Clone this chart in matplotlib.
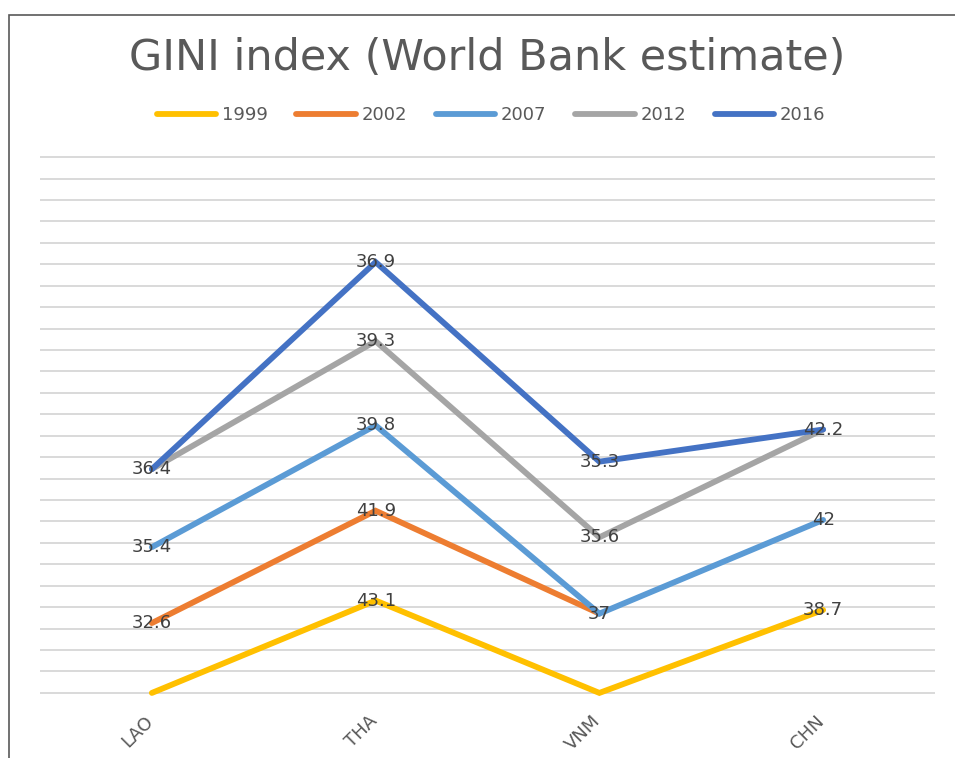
import matplotlib
matplotlib.use("Agg")
import matplotlib.pyplot as plt
import numpy as np
from matplotlib.lines import Line2D
from matplotlib.patches import Rectangle
from matplotlib.transforms import ScaledTranslation

countries = ["LAO", "THA", "VNM", "CHN"]
years = ["1999", "2002", "2007", "2012", "2016"]
# 0 = blank counted as zero (no label); None = gap (not drawn)
v1999 = [0, 43.1, 0, 38.7]
v2002 = [32.6, 41.9, 37.0, None]
v2007 = [35.4, 39.8, 0, 42.0]
v2012 = [36.4, 39.3, 35.6, 42.2]
v2016 = [0, 36.9, 35.3, 0]
series = [v1999, v2002, v2007, v2012, v2016]
colors = ["#FFC000", "#ED7D31", "#5B9BD5", "#A5A5A5", "#4472C4"]

W, H = 955, 758
fig = plt.figure(figsize=(W / 100, H / 100), dpi=100)
fig.patch.set_facecolor("white")

# chart border (cropped screenshot)
fig.add_artist(Rectangle((9 / W, -0.1), 1.2, (H - 15) / H + 0.1, transform=fig.transFigure,
                         fill=False, edgecolor="#595959", linewidth=1.2))

ax = fig.add_axes([40 / W, (H - 694) / H, 895 / W, 538 / H])
ax.set_xlim(-0.5, 3.5)
ax.set_ylim(-0.5, 250.5)
for s in ax.spines.values():
    s.set_visible(False)
ax.set_yticks(np.arange(0, 251, 10))
ax.yaxis.grid(True, color="#D9D9D9", linewidth=1.4)
ax.tick_params(axis="y", left=False, labelleft=False)
ax.tick_params(axis="x", bottom=False, length=0, pad=13)
ax.set_axisbelow(True)
x = np.arange(len(countries))
ax.set_xticks(x)
ax.set_xticklabels(countries, rotation=45, ha="right", va="top",
                   fontsize=13, color="#595959", fontname="DejaVu Sans")
off = ScaledTranslation(5 / 100, 0, fig.dpi_scale_trans)
for lab in ax.get_xticklabels():
    lab.set_transform(lab.get_transform() + off)

cum = np.zeros(len(countries))
for i, (vals, c) in enumerate(zip(series, colors)):
    arr = np.array([np.nan if v is None else v for v in vals], dtype=float)
    cum = cum + np.nan_to_num(arr)
    ydraw = np.where(np.isnan(arr), np.nan, cum)
    ax.plot(x, ydraw, color=c, linewidth=4.2, solid_capstyle="round",
            solid_joinstyle="miter", zorder=2 + i, clip_on=False)
    for xi, yi, v in zip(x, cum, arr):
        if not np.isnan(v) and v != 0:
            ax.text(xi, yi, f"{v:g}", ha="center", va="center", fontsize=13,
                    color="#404040", fontname="DejaVu Sans", zorder=10)

fig.text(487 / W, 1 - 58 / H, "GINI index (World Bank estimate)", ha="center", va="center",
         fontsize=31, color="#595959", fontname="DejaVu Sans")

handles = [Line2D([0], [0], color=c, linewidth=4.2, solid_capstyle="round") for c in colors]
fig.legend(handles, years, loc="center", bbox_to_anchor=(491 / W, 1 - 115 / H), ncol=5,
           frameon=False, handlelength=3.3, handletextpad=0.3, columnspacing=1.6,
           prop={"family": "DejaVu Sans", "size": 13}, labelcolor="#595959")

fig.savefig("out.png", dpi=100)
